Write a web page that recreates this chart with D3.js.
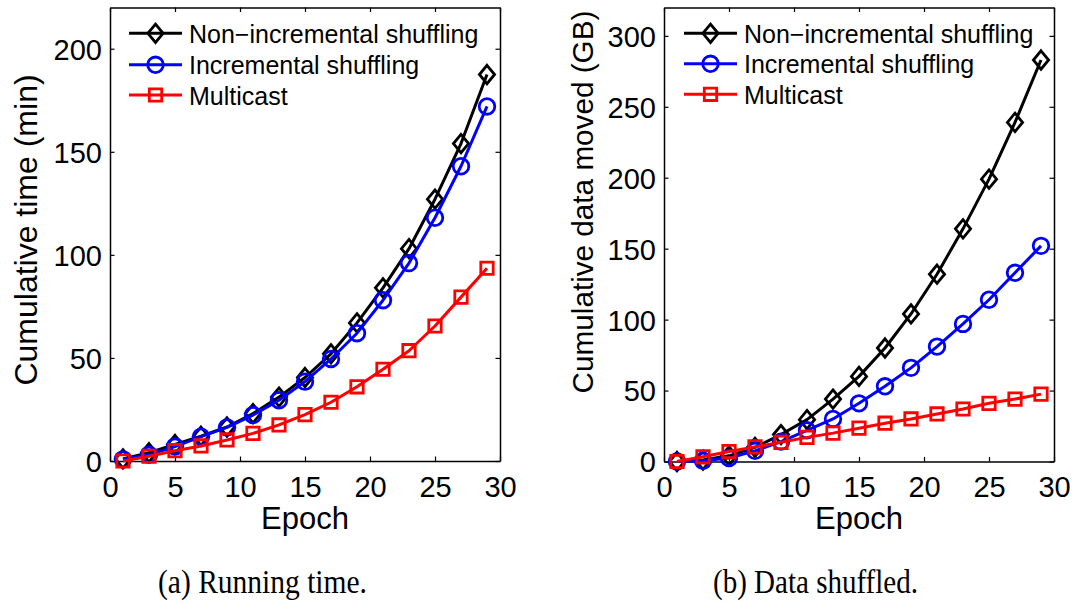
<!DOCTYPE html>
<html>
<head>
<meta charset="utf-8">
<script src="https://cdn.jsdelivr.net/npm/d3@7"></script>
<style>
  html, body { margin: 0; padding: 0; background: #fff; }
  svg { display: block; }
</style>
</head>
<body>
<svg id="fig" width="1078" height="601"></svg>
<script>
// Epochs at which each run was sampled
const epochs = [1, 3, 5, 7, 9, 11, 13, 15, 17, 19, 21, 23, 25, 27, 29];

// Series names, shared by both panels
const seriesNames = ["Non\u2212incremental shuffling", "Incremental shuffling", "Multicast"];

// (a) cumulative running time, minutes
const timeNonIncremental = [1, 4, 8, 12, 16.5, 23, 31, 40.5, 52, 67, 84, 103, 127, 154, 187.5];
const timeIncremental    = [0.8, 3, 7, 11.8, 16.3, 22.3, 29.5, 38.5, 49.5, 62, 78, 96, 118, 143, 172];
const timeMulticast      = [0, 2.3, 5, 7.3, 10.2, 13.4, 17.5, 22.5, 28.5, 36, 44.5, 53.5, 65.5, 79.5, 93.5];

// (b) cumulative data moved, GB
const dataNonIncremental = [0, 1, 4, 10, 19, 29.5, 44, 60, 80, 104, 132, 164, 199, 239, 283];
const dataIncremental    = [0, 0.5, 2.5, 7.5, 14, 22, 30, 41, 53, 66, 81, 97, 114, 133, 152];
const dataMulticast      = [0, 3.3, 7, 10.3, 13.5, 17, 20, 23.5, 27, 30, 33.5, 37, 41, 44, 47.5];

// Tick values
const xTicks = [0, 5, 10, 15, 20, 25, 30];
const timeTicks = [0, 50, 100, 150, 200];
const dataTicks = [0, 50, 100, 150, 200, 250, 300];

const colors = ["#000000", "#0000ff", "#ff0000"];
const markers = ["diamond", "circle", "square"];

const svg = d3.select("#fig");
const SANS = "'Liberation Sans', Arial, Helvetica, sans-serif";
const SERIF = "'Liberation Serif', 'Times New Roman', serif";
const LINE_W = 3;
const MARK_W = 2.8;

function drawMarker(g, kind, color) {
  if (kind === "circle") {
    return g.append("circle").attr("r", 7.8)
      .attr("fill", "none").attr("stroke", color).attr("stroke-width", MARK_W);
  }
  const d = kind === "diamond"
    ? "M0,-9.2L7.6,0L0,9.2L-7.6,0Z"
    : "M-6.2,-6.2H6.2V6.2H-6.2Z";
  return g.append("path").attr("d", d)
    .attr("fill", "none").attr("stroke", color).attr("stroke-width", MARK_W)
    .attr("stroke-linejoin", "miter");
}

function panel(opts) {
  const {left, right, top, bottom, yMax, yTicks, series, yLabel, yLabelX, yLabelY, yLabelSize,
         legendX, legendRows, caption, captionX, captionLen} = opts;

  const x = d3.scaleLinear().domain([0, 30]).range([left, right]);
  const y = d3.scaleLinear().domain([0, yMax]).range([bottom, top]);
  const g = svg.append("g");

  // Axis box with inward ticks on all four sides
  const tickLen = 4.5;
  const axes = [
    {axis: d3.axisBottom(x).tickValues(xTicks).tickSizeInner(-tickLen).tickSizeOuter(0), t: `translate(0,${bottom})`, labels: true},
    {axis: d3.axisTop(x).tickValues(xTicks).tickSizeInner(-tickLen).tickSizeOuter(0), t: `translate(0,${top})`, labels: false},
    {axis: d3.axisLeft(y).tickValues(yTicks).tickSizeInner(-tickLen).tickSizeOuter(0), t: `translate(${left},0)`, labels: true},
    {axis: d3.axisRight(y).tickValues(yTicks).tickSizeInner(-tickLen).tickSizeOuter(0), t: `translate(${right},0)`, labels: false}
  ];
  axes.forEach((a, i) => {
    const ag = g.append("g").attr("transform", a.t).call(a.axis);
    ag.select(".domain").attr("stroke", "#000").attr("stroke-width", 1.5);
    ag.selectAll(".tick line").attr("stroke", "#000").attr("stroke-width", 1.2);
    if (!a.labels) ag.selectAll(".tick text").remove();
    ag.selectAll(".tick text")
      .attr("font-family", SANS).attr("font-size", 29).attr("fill", "#000");
    if (i === 0) ag.selectAll(".tick text").attr("y", 0).attr("dy", "35.5px");
    if (i === 2) ag.selectAll(".tick text").attr("x", -8).attr("dy", "10.4px");
  });

  // Series lines and markers (drawn in legend order so red ends on top)
  const line = d3.line().x((d, i) => x(epochs[i])).y(d => y(d));
  series.forEach((vals, s) => {
    g.append("path").datum(vals).attr("d", line)
      .attr("fill", "none").attr("stroke", colors[s]).attr("stroke-width", LINE_W)
      .attr("stroke-linejoin", "round");
    vals.forEach((v, i) => {
      const mg = g.append("g").attr("transform", `translate(${x(epochs[i])},${y(v)})`);
      drawMarker(mg, markers[s], colors[s]);
    });
  });

  // Legend
  legendRows.forEach((ry, s) => {
    const lg = g.append("g");
    lg.append("line").attr("x1", legendX).attr("x2", legendX + 53).attr("y1", ry).attr("y2", ry)
      .attr("stroke", colors[s]).attr("stroke-width", LINE_W);
    const mg = lg.append("g").attr("transform", `translate(${legendX + 26.5},${ry})`);
    drawMarker(mg, markers[s], colors[s]);
    lg.append("text").attr("x", legendX + 60).attr("y", ry + 9.6)
      .attr("font-family", SANS).attr("font-size", 25).attr("fill", "#000")
      .text(seriesNames[s]);
  });

  // Axis titles
  g.append("text").attr("x", (left + right) / 2).attr("y", 528.5)
    .attr("text-anchor", "middle").attr("font-family", SANS).attr("font-size", 31)
    .text("Epoch");
  g.append("text")
    .attr("transform", `translate(${yLabelX},${yLabelY}) rotate(-90)`)
    .attr("text-anchor", "middle").attr("font-family", SANS).attr("font-size", yLabelSize)
    .text(yLabel);

  // Sub-figure caption
  g.append("text").attr("x", captionX).attr("y", 592.7)
    .attr("font-family", SERIF).attr("font-size", 33)
    .attr("textLength", captionLen).attr("lengthAdjust", "spacingAndGlyphs")
    .text(caption);
}

panel({
  left: 110, right: 500, top: 7.5, bottom: 461, yMax: 220, yTicks: timeTicks,
  series: [timeNonIncremental, timeIncremental, timeMulticast],
  yLabel: "Cumulative time (min)", yLabelX: 36.5, yLabelY: 230, yLabelSize: 32,
  legendX: 129, legendRows: [33.3, 64.8, 95],
  caption: "(a) Running time.", captionX: 158, captionLen: 209
});

panel({
  left: 664, right: 1054, top: 7.5, bottom: 461.5, yMax: 320, yTicks: dataTicks,
  series: [dataNonIncremental, dataIncremental, dataMulticast],
  yLabel: "Cumulative data moved (GB)", yLabelX: 593, yLabelY: 202, yLabelSize: 29.7,
  legendX: 684, legendRows: [33.3, 63.8, 94.3],
  caption: "(b) Data shuffled.", captionX: 713, captionLen: 205
});
</script>
</body>
</html>
